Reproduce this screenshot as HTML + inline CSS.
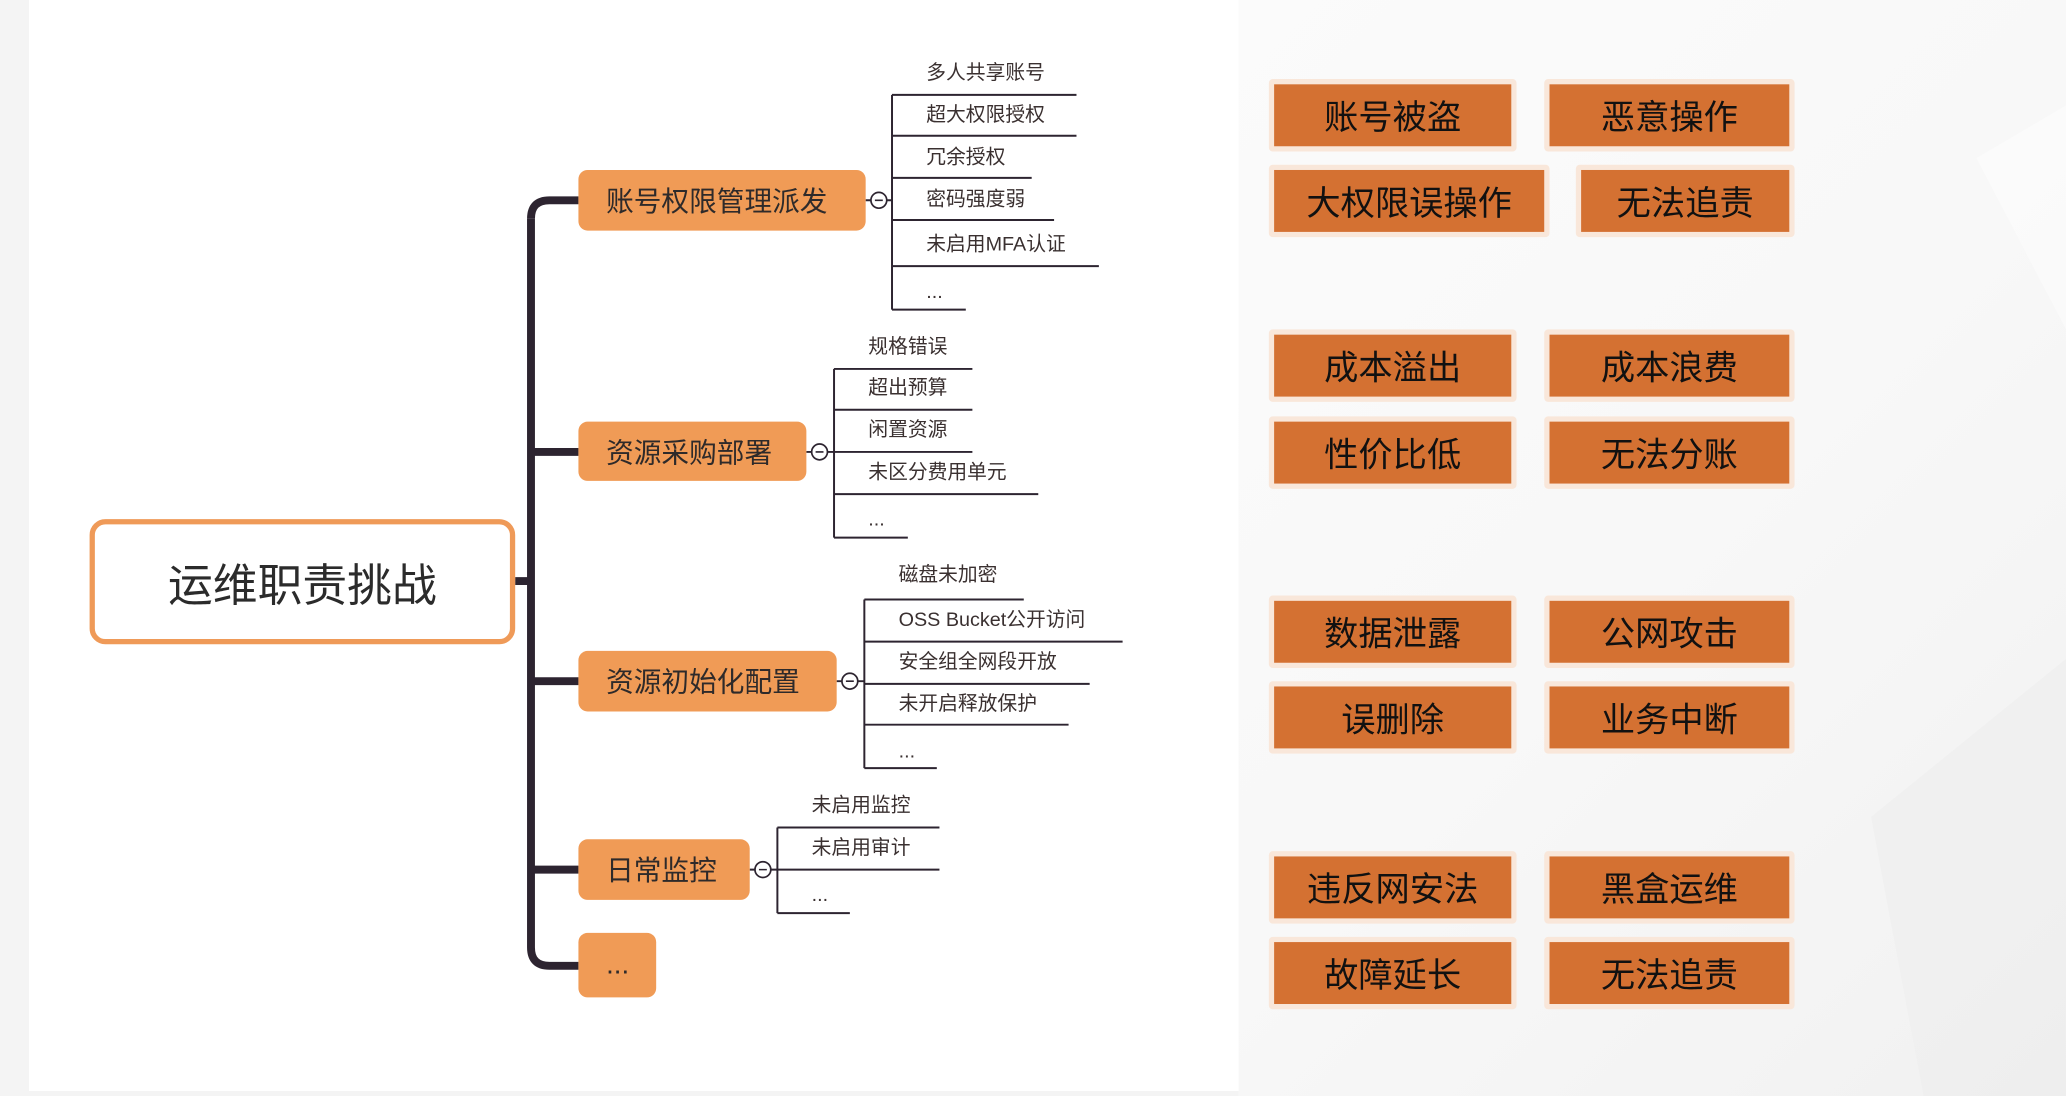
<!DOCTYPE html>
<html><head><meta charset="utf-8"><style>
html,body{margin:0;padding:0;width:2066px;height:1096px;overflow:hidden;background:#f4f4f4;}
#w{position:absolute;left:0;top:0;width:1568px;height:832px;transform:scale(1.31760);transform-origin:0 0;font-family:"Liberation Sans","Noto Sans CJK SC",sans-serif;}
.bg{position:absolute;left:22px;top:0;width:918px;height:828px;background:#fff;}
.rbg{position:absolute;left:940px;top:0;width:628px;height:832px;background:linear-gradient(135deg,#fbfbfb 0%,#f8f8f8 50%,#f1f1f1 100%);}
.main{position:absolute;left:68px;top:394px;width:315px;height:87px;border:4px solid #EF9A58;border-radius:12px;background:#fff;font-size:34px;color:#2b2b2b;display:flex;align-items:center;justify-content:center;box-sizing:content-box;}
.br{position:absolute;background:#F09B56;border-radius:7px;color:#2e2a2a;font-size:21px;display:flex;align-items:center;padding-left:21px;box-sizing:border-box;}
.it{position:absolute;font-size:15px;color:#3a3030;line-height:18px;white-space:nowrap;}
.rb{position:absolute;background:#F9E7DA;border-radius:3px;}
.rb div{position:absolute;left:4px;top:4px;right:4px;bottom:4px;background:#D47132;color:#111;font-size:26px;display:flex;align-items:center;justify-content:center;font-family:"Noto Sans CJK SC",sans-serif;}
</style></head><body><div id="w">
<div class="rbg"></div>
<svg style="position:absolute;left:940px;top:0" width="628" height="832"><polygon points="560,120 628,80 628,250" fill="#fff" opacity="0.4"/><polygon points="480,620 628,500 628,832 520,832" fill="#ececec" opacity="0.4"/></svg>
<div class="bg"></div>
<svg style="position:absolute;left:0;top:0" width="940" height="832" fill="none">
<g stroke="#2d2430" stroke-width="6">
<path d="M403,166 Q403,152 417,152 L439,152"/>
<path d="M403,166 L403,719 Q403,733 417,733 L439,733"/>
<path d="M403,343 L439,343 M403,517 L439,517 M403,660 L439,660 M391,441 L403,441"/>
</g>
<g stroke="#2d2430" stroke-width="1.5">
<path d="M677,72 V235 M677,72 H817 M677,103 H817 M677,135 H783 M677,167 H800 M677,202 H834 M677,235 H733"/>
<path d="M633,280 V408 M633,280 H738 M633,311 H738 M633,343 H738 M633,375 H788 M633,408 H689"/>
<path d="M656,455 V583 M656,455 H777 M656,487 H852 M656,519 H827 M656,550 H811 M656,583 H711"/>
<path d="M590,628 V693 M590,628 H713 M590,660 H713 M590,693 H645"/>
<path d="M657,152 H677 M612,343 H633 M635,517 H656 M569,660 H590"/>
</g>
<g stroke="#2d2430" stroke-width="1.3" fill="#fff">
<circle cx="667" cy="152" r="6"/><circle cx="622" cy="343" r="6"/><circle cx="645" cy="517" r="6"/><circle cx="579" cy="660" r="6"/>
</g>
<g stroke="#2d2430" stroke-width="1.2"><path d="M664,152h6M619,343h6M642,517h6M576,660h6"/></g>
</svg>
<div class="main">运维职责挑战</div>
<div class="br" style="left:439px;top:129px;width:218px;height:46px">账号权限管理派发</div>
<div class="br" style="left:439px;top:320px;width:173px;height:45px">资源采购部署</div>
<div class="br" style="left:439px;top:494px;width:196px;height:46px">资源初始化配置</div>
<div class="br" style="left:439px;top:637px;width:130px;height:46px">日常监控</div>
<div class="br" style="left:439px;top:708px;width:59px;height:49px">...</div>

<div class="it" style="left:703px;top:47px">多人共享账号</div>
<div class="it" style="left:703px;top:79px">超大权限授权</div>
<div class="it" style="left:703px;top:111px">冗余授权</div>
<div class="it" style="left:703px;top:143px">密码强度弱</div>
<div class="it" style="left:703px;top:177px">未启用MFA认证</div>
<div class="it" style="left:703px;top:213px">...</div>

<div class="it" style="left:659px;top:255px">规格错误</div>
<div class="it" style="left:659px;top:286px">超出预算</div>
<div class="it" style="left:659px;top:318px">闲置资源</div>
<div class="it" style="left:659px;top:350px">未区分费用单元</div>
<div class="it" style="left:659px;top:386px">...</div>

<div class="it" style="left:682px;top:428px">磁盘未加密</div>
<div class="it" style="left:682px;top:462px">OSS Bucket公开访问</div>
<div class="it" style="left:682px;top:494px">安全组全网段开放</div>
<div class="it" style="left:682px;top:526px">未开启释放保护</div>
<div class="it" style="left:682px;top:562px">...</div>

<div class="it" style="left:616px;top:603px">未启用监控</div>
<div class="it" style="left:616px;top:635px">未启用审计</div>
<div class="it" style="left:616px;top:671px">...</div>

<div class="rb" style="left:963px;top:60px;width:188px;height:55px"><div>账号被盗</div></div>
<div class="rb" style="left:1172px;top:60px;width:190px;height:55px"><div>恶意操作</div></div>
<div class="rb" style="left:963px;top:125px;width:213px;height:55px"><div>大权限误操作</div></div>
<div class="rb" style="left:1196px;top:125px;width:166px;height:55px"><div>无法追责</div></div>
<div class="rb" style="left:963px;top:250px;width:188px;height:55px"><div>成本溢出</div></div>
<div class="rb" style="left:1172px;top:250px;width:190px;height:55px"><div>成本浪费</div></div>
<div class="rb" style="left:963px;top:316px;width:188px;height:55px"><div>性价比低</div></div>
<div class="rb" style="left:1172px;top:316px;width:190px;height:55px"><div>无法分账</div></div>
<div class="rb" style="left:963px;top:452px;width:188px;height:55px"><div>数据泄露</div></div>
<div class="rb" style="left:1172px;top:452px;width:190px;height:55px"><div>公网攻击</div></div>
<div class="rb" style="left:963px;top:517px;width:188px;height:55px"><div>误删除</div></div>
<div class="rb" style="left:1172px;top:517px;width:190px;height:55px"><div>业务中断</div></div>
<div class="rb" style="left:963px;top:646px;width:188px;height:55px"><div>违反网安法</div></div>
<div class="rb" style="left:1172px;top:646px;width:190px;height:55px"><div>黑盒运维</div></div>
<div class="rb" style="left:963px;top:711px;width:188px;height:55px"><div>故障延长</div></div>
<div class="rb" style="left:1172px;top:711px;width:190px;height:55px"><div>无法追责</div></div>
</div></body></html>
